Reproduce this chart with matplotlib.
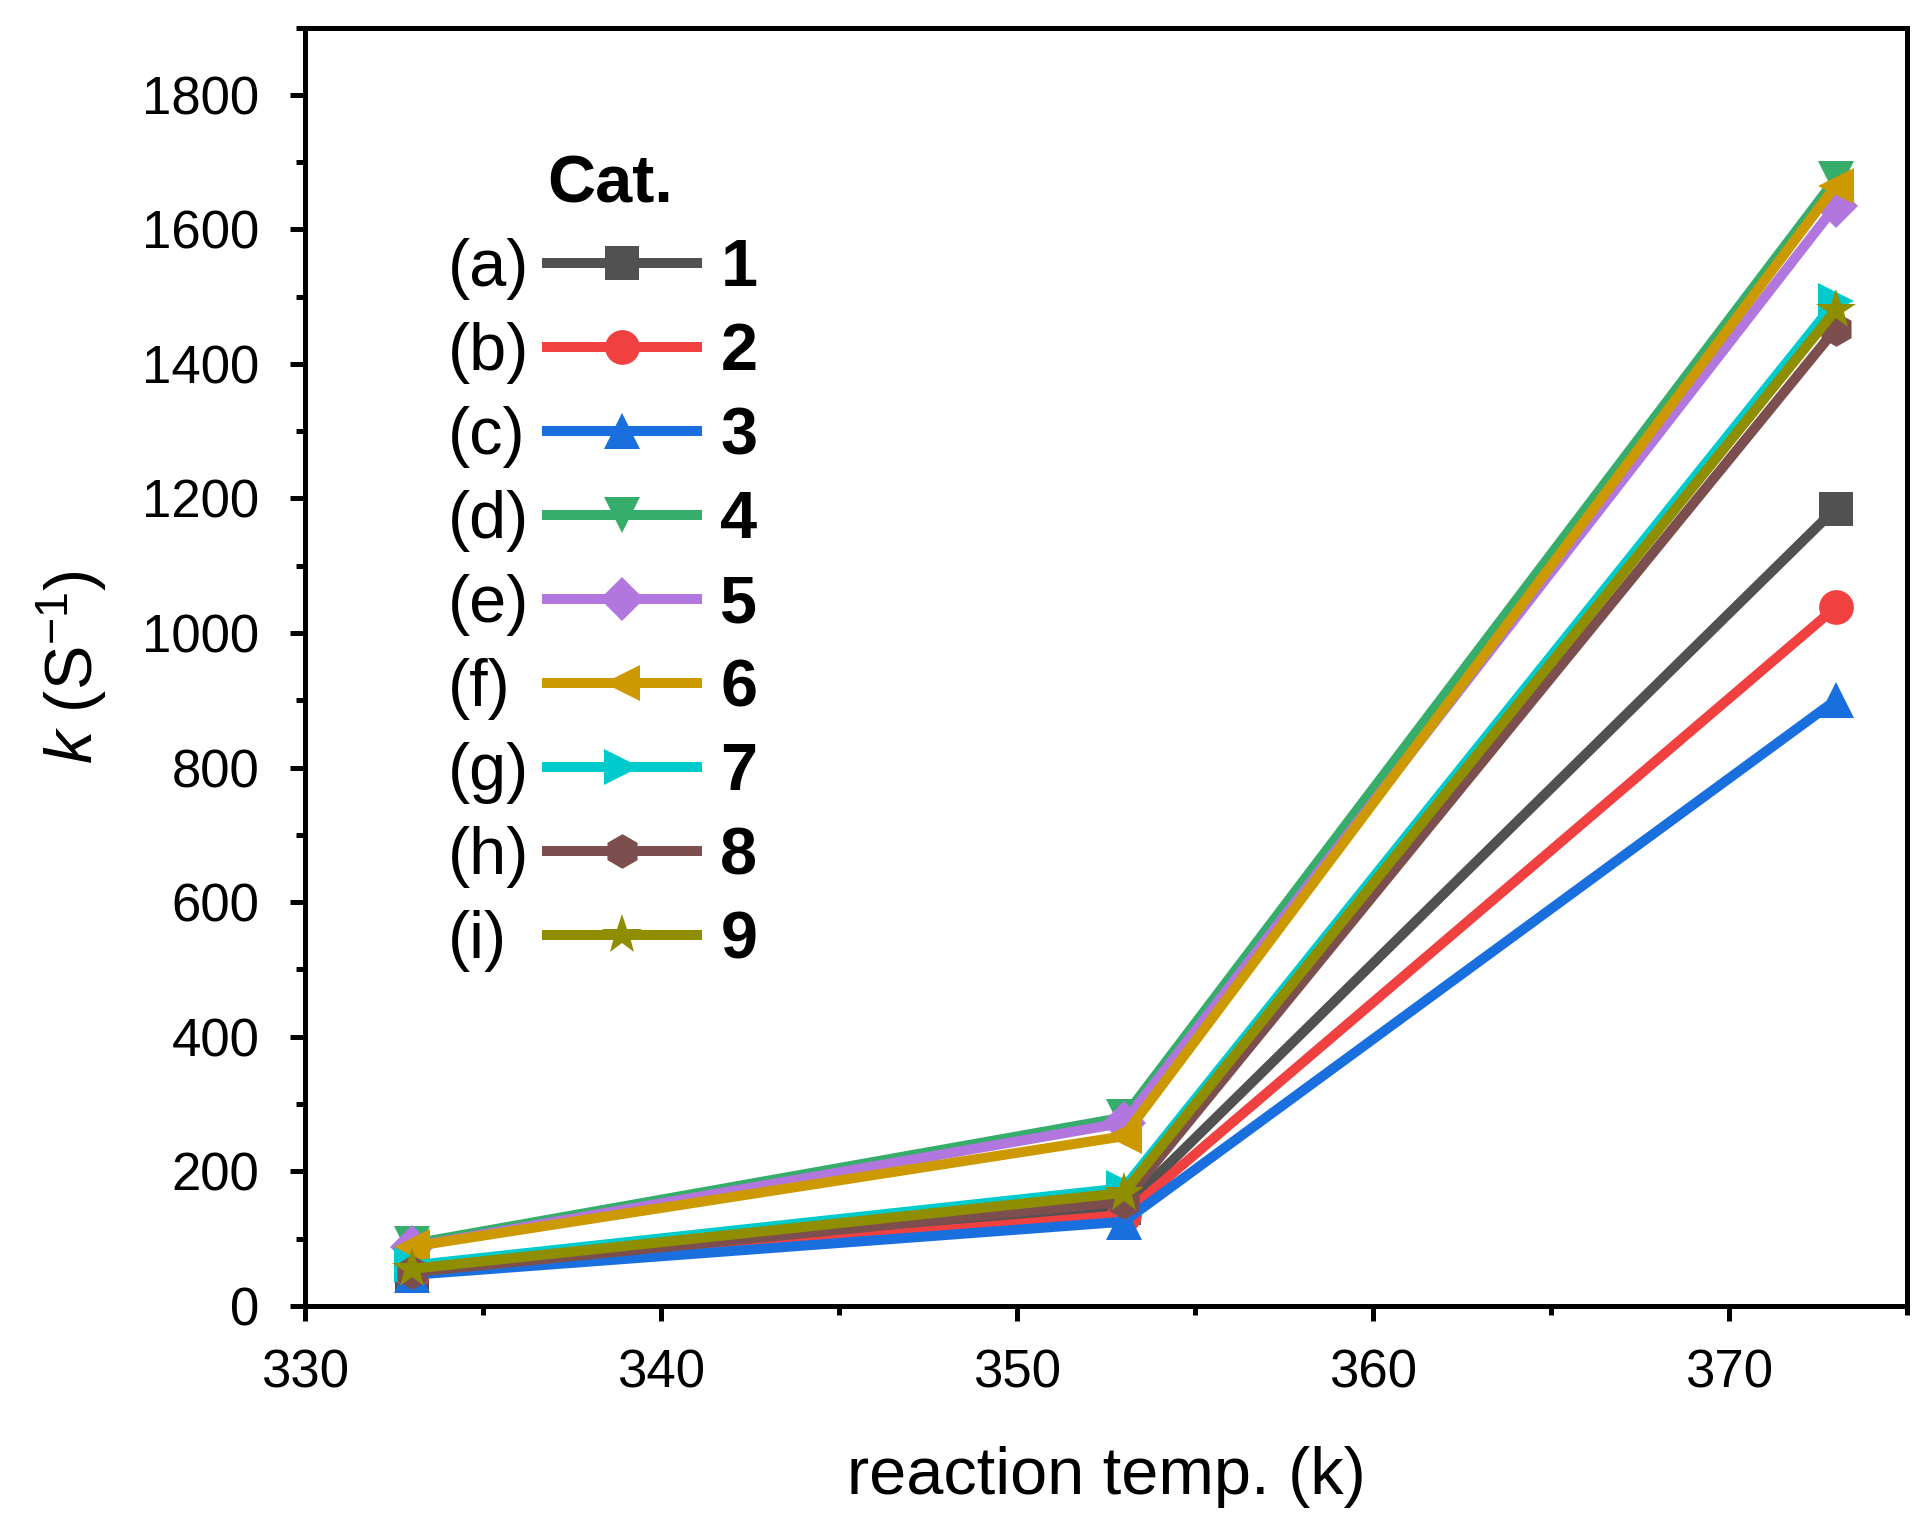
#!/usr/bin/env python3

"""
Rate constant k vs reaction temperature for catalysts 1-9
"""

import matplotlib
matplotlib.use("Agg")
import matplotlib.pyplot as plt
from matplotlib.ticker import MultipleLocator

plt.rcParams["font.family"] = ["Liberation Sans", "DejaVu Sans"]
plt.rcParams["mathtext.fontset"] = "custom"
plt.rcParams["mathtext.rm"] = "Liberation Sans"
plt.rcParams["mathtext.it"] = "Liberation Sans:italic"

temps = [333, 353, 373]

k_cat1 = [48, 145, 1185]
k_cat2 = [47, 135, 1038]
k_cat3 = [46, 125, 900]
k_cat4 = [92, 280, 1675]
k_cat5 = [88, 272, 1635]
k_cat6 = [88, 252, 1665]
k_cat7 = [60, 175, 1493]
k_cat8 = [50, 155, 1452]
k_cat9 = [55, 168, 1480]

series = [k_cat1, k_cat2, k_cat3, k_cat4, k_cat5, k_cat6, k_cat7, k_cat8, k_cat9]
labels = ["1", "2", "3", "4", "5", "6", "7", "8", "9"]
letters = ["(a)", "(b)", "(c)", "(d)", "(e)", "(f)", "(g)", "(h)", "(i)"]

# Origin default palette
colors = ["#515151", "#F14040", "#1A6FDF", "#37AD6B", "#B177DE",
          "#CC9900", "#00CBCC", "#7D4E4E", "#8E8E00"]
markers = ["s", "o", "^", "v", "D", "<", ">", "h", "*"]
msizes = [12, 12.5, 13, 13, 11, 13, 13, 12.5, 15]

fig = plt.figure(figsize=(9.655, 7.64), dpi=200)
ax = fig.add_axes([0.158, 0.1454, 0.8295, 0.8366])

for y, lab, c, m, ms in zip(series, labels, colors, markers, msizes):
    ax.plot(temps, y, color=c, marker=m, markersize=ms, lw=3.6,
            markeredgewidth=0, label=lab)

ax.set_xlim(330, 375)
ax.set_ylim(0, 1900)
ax.xaxis.set_major_locator(MultipleLocator(10))
ax.xaxis.set_minor_locator(MultipleLocator(5))
ax.yaxis.set_major_locator(MultipleLocator(200))
ax.yaxis.set_minor_locator(MultipleLocator(100))

for s in ax.spines.values():
    s.set_linewidth(1.8)
ax.tick_params(which="major", direction="out", length=5.5, width=1.8,
               labelsize=19)
ax.tick_params(axis="x", which="major", pad=10)
ax.tick_params(axis="y", which="major", pad=11)
ax.tick_params(which="minor", direction="out", length=3.2, width=1.8)

ax.set_xlabel("reaction temp. (k)", fontsize=24, labelpad=17)
ax.set_ylabel(r"$k$ (S$^{\mathregular{-1}}$)", fontsize=24, labelpad=12)

leg = ax.legend(loc="upper left", bbox_to_anchor=(0.151, 0.901),
                frameon=False, fontsize=24, title="Cat.",
                title_fontproperties={"weight": "bold", "size": 24},
                alignment="left", borderaxespad=0, borderpad=0,
                handlelength=2.25, handletextpad=0.35, labelspacing=0.33)
for t in leg.get_texts():
    t.set_fontweight("bold")

# letter tags sit to the left of each legend handle, left aligned
for t, let in zip(leg.get_texts(), letters):
    ax.annotate(let, xy=(0, 0.5), xycoords=t, xytext=(-98, 0),
                textcoords="offset points", ha="left", va="center",
                fontsize=24, zorder=10, annotation_clip=False)

fig.canvas.draw()
plt.savefig("out.png", dpi=200)
